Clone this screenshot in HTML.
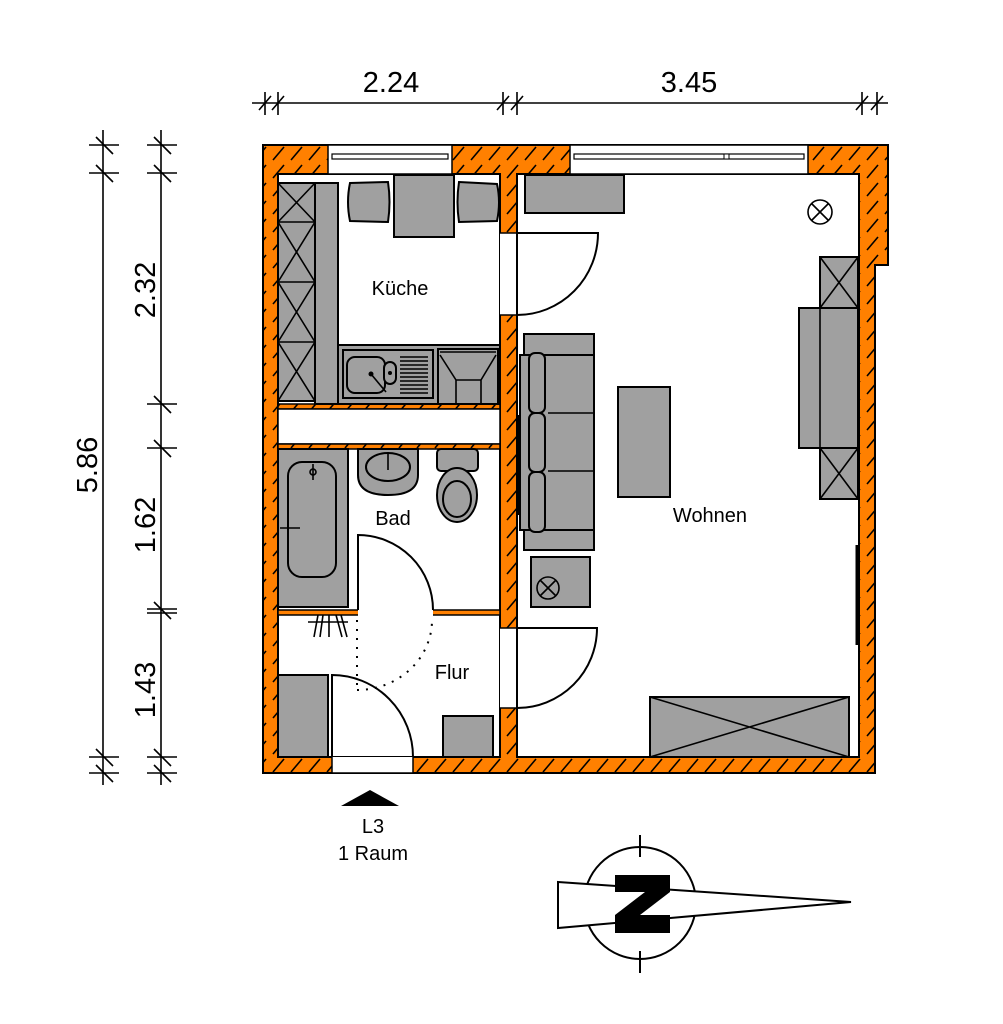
<!DOCTYPE html>
<html><head><meta charset="utf-8"><style>
html,body{margin:0;padding:0;background:#fff;}
svg{display:block;}
text{font-family:"Liberation Sans",Arial,sans-serif;fill:#000;}
</style></head><body>
<svg width="1003" height="1024" viewBox="0 0 1003 1024" xmlns="http://www.w3.org/2000/svg">
<defs>
<pattern id="h" width="18" height="18" patternUnits="userSpaceOnUse">
<rect width="18" height="18" fill="#FF8000"/>
<path d="M3,16 L14,3" stroke="#000" stroke-width="1.6"/>
</pattern>
</defs>
<path d="M263,145 H888 V265 H875 V773 H263 Z" fill="url(#h)" stroke="#000" stroke-width="2"/>
<rect x="278" y="174" width="222" height="583" fill="#fff" stroke="#000" stroke-width="2"/>
<path d="M517,174 H859 V757 H517 Z" fill="#fff" stroke="#000" stroke-width="2"/>
<rect x="278" y="404" width="222" height="5" fill="url(#h)" stroke="#000" stroke-width="1.5"/>
<rect x="278" y="409" width="222" height="35" fill="#fff" stroke="#000" stroke-width="1.5"/>
<rect x="278" y="444" width="222" height="5" fill="url(#h)" stroke="#000" stroke-width="1.5"/>
<rect x="278" y="610" width="222" height="5" fill="url(#h)" stroke="#000" stroke-width="1.5"/>
<rect x="328" y="145" width="124" height="29" fill="#fff" stroke="#000" stroke-width="1.5"/>
<rect x="332" y="154" width="116" height="5" fill="#fff" stroke="#000" stroke-width="1.2"/>
<rect x="570" y="145" width="238" height="29" fill="#fff" stroke="#000" stroke-width="1.5"/>
<rect x="574" y="154" width="230" height="5" fill="#fff" stroke="#000" stroke-width="1.2"/>
<rect x="724" y="154" width="5" height="5" fill="#fff" stroke="#000" stroke-width="1"/>
<rect x="500" y="233" width="17" height="82" fill="#fff"/>
<rect x="500" y="628" width="17" height="80" fill="#fff"/>
<rect x="332" y="757" width="81" height="16" fill="#fff"/>
<rect x="358" y="608" width="75" height="9" fill="#fff"/>
<line x1="500" y1="233" x2="517" y2="233" stroke="#000" stroke-width="1.5"/>
<line x1="500" y1="315" x2="517" y2="315" stroke="#000" stroke-width="1.5"/>
<line x1="500" y1="628" x2="517" y2="628" stroke="#000" stroke-width="1.5"/>
<line x1="500" y1="708" x2="517" y2="708" stroke="#000" stroke-width="1.5"/>
<line x1="332" y1="773" x2="413" y2="773" stroke="#000" stroke-width="1.5"/>
<line x1="332" y1="757" x2="332" y2="773" stroke="#000" stroke-width="1.5"/>
<line x1="413" y1="757" x2="413" y2="773" stroke="#000" stroke-width="1.5"/>
<g fill="none" stroke="#000" stroke-width="2">
<path d="M517,233 H598 A81,82 0 0 1 517,315"/>
<line x1="517" y1="233" x2="517" y2="315"/>
<path d="M517,628 H597 A80,80 0 0 1 517,708"/>
<line x1="517" y1="628" x2="517" y2="708"/>
<path d="M358,610 V535 A75,75 0 0 1 433,610"/>
<path d="M332,757 V675 A81,82 0 0 1 413,757"/>
<path d="M357,620 V690 M357,690 A75,70 0 0 0 432,620" stroke-dasharray="2,7"/>
</g>
<g fill="#A0A0A0" stroke="#000" stroke-width="2">
<rect x="278" y="183" width="37" height="218"/>
<rect x="315" y="183" width="23" height="221"/>
<rect x="338" y="345" width="162" height="59"/>
<rect x="343" y="350" width="90" height="48"/>
<rect x="438" y="349" width="60" height="55"/>
<rect x="394" y="175" width="60" height="62"/>
<path d="M350,183 L388,182 Q391,202 388,222 L350,221 Q346,202 350,183 Z"/>
<path d="M459,182 L497,184 Q501,202 497,221 L459,222 Q456,202 459,182 Z"/>
<rect x="347" y="357" width="38" height="36" rx="8"/>
<rect x="384" y="362" width="12" height="22" rx="6"/>
</g>
<g stroke="#000" stroke-width="1.6" fill="none">
<path d="M278,183 L315,222 M315,183 L278,222 M278,222 L315,282 M315,222 L278,282 M278,282 L315,342 M315,282 L278,342 M278,342 L315,401 M315,342 L278,401"/>
<line x1="278" y1="222" x2="315" y2="222"/><line x1="278" y1="282" x2="315" y2="282"/><line x1="278" y1="342" x2="315" y2="342"/>
<path d="M400,357 H428 M400,361 H428 M400,365 H428 M400,369 H428 M400,373 H428 M400,377 H428 M400,381 H428 M400,385 H428 M400,389 H428 M400,393 H428"/>
<path d="M371,374 L386,392"/>
<path d="M440,352 H496 M440,355 L456,380 H481 L496,355 M456,380 V404 M481,380 V404"/>
</g>
<circle cx="371" cy="374" r="2.5"/><circle cx="390" cy="373" r="2"/>
<g fill="#A0A0A0" stroke="#000" stroke-width="2">
<rect x="525" y="175" width="99" height="38"/>
<rect x="524" y="334" width="70" height="21"/>
<rect x="524" y="530" width="70" height="20"/>
<rect x="520" y="355" width="74" height="175"/>
<rect x="529" y="353" width="16" height="60" rx="6"/>
<rect x="529" y="413" width="16" height="59" rx="6"/>
<rect x="529" y="472" width="16" height="60" rx="6"/>
<rect x="618" y="387" width="52" height="110"/>
<rect x="531" y="557" width="59" height="50"/>
<rect x="820" y="257" width="38" height="51"/>
<rect x="799" y="308" width="59" height="140"/>
<rect x="820" y="448" width="38" height="51"/>
<rect x="650" y="697" width="199" height="60"/>
</g>
<g stroke="#000" stroke-width="1.6" fill="none">
<line x1="548" y1="413" x2="594" y2="413"/><line x1="548" y1="471" x2="594" y2="471"/>
<line x1="820" y1="308" x2="820" y2="448"/>
<path d="M820,257 L858,308 M858,257 L820,308 M820,448 L858,499 M858,448 L820,499"/>
<path d="M650,697 L849,757 M849,697 L650,757"/>
<circle cx="548" cy="588" r="11"/><path d="M540,580 L556,596 M556,580 L540,596"/>
<circle cx="820" cy="212" r="12"/><path d="M811.5,203.5 L828.5,220.5 M828.5,203.5 L811.5,220.5"/>
</g>
<line x1="857" y1="545" x2="857" y2="645" stroke="#000" stroke-width="3"/>
<line x1="518" y1="415" x2="518" y2="515" stroke="#000" stroke-width="3"/>
<g fill="#A0A0A0" stroke="#000" stroke-width="2">
<rect x="278" y="449" width="70" height="158"/>
<rect x="288" y="462" width="48" height="115" rx="14"/>
<path d="M358,449 H418 V475 Q418,495 388,495 Q358,495 358,475 Z"/>
<ellipse cx="388" cy="467" rx="22" ry="14"/>
<rect x="437" y="449" width="41" height="22" rx="4"/>
<ellipse cx="457" cy="495" rx="20" ry="27"/>
<ellipse cx="457" cy="499" rx="14" ry="18"/>
<rect x="278" y="675" width="50" height="82"/>
<rect x="443" y="716" width="50" height="41"/>
</g>
<g stroke="#000" stroke-width="1.6" fill="none">
<line x1="280" y1="528" x2="300" y2="528"/>
<circle cx="313" cy="472" r="3"/><line x1="313" y1="464" x2="313" y2="480"/>
<line x1="388" y1="452" x2="388" y2="470"/>
<path d="M308,622 H348 M318,615 L314,637 M323,615 L320,637 M329,615 L329,637 M336,615 L342,637 M341,615 L347,637"/>
</g>
<text x="400" y="295" font-size="20" text-anchor="middle">Küche</text>
<text x="393" y="525" font-size="20" text-anchor="middle">Bad</text>
<text x="452" y="679" font-size="20" text-anchor="middle">Flur</text>
<text x="710" y="522" font-size="20" text-anchor="middle">Wohnen</text>
<g stroke="#000" stroke-width="1.6" fill="none">
<line x1="252" y1="103" x2="888" y2="103"/>
<path d="M265,92 V115 M278,92 V115 M503,92 V115 M517,92 V115 M862,92 V115 M877,92 V115"/>
<path d="M259,110 L271,96 M272,110 L284,96 M497,110 L509,96 M511,110 L523,96 M856,110 L868,96 M871,110 L883,96"/>
<line x1="103" y1="130" x2="103" y2="785"/>
<line x1="161" y1="130" x2="161" y2="785"/>
<path d="M89,145 H119 M89,173 H119 M89,757 H119 M89,773 H119 M147,145 H177 M147,173 H177 M147,404 H177 M147,448 H177 M147,609 H177 M147,613 H177 M147,757 H177 M147,773 H177"/>
<path d="M96,137 L113,154 M96,165 L113,182 M96,749 L113,766 M96,765 L113,782 M154,137 L171,154 M154,165 L171,182 M154,396 L171,413 M154,440 L171,457 M154,602 L171,619 M154,749 L171,766 M154,765 L171,782"/>
</g>
<text x="391" y="92" font-size="29" text-anchor="middle">2.24</text>
<text x="689" y="92" font-size="29" text-anchor="middle">3.45</text>
<text transform="translate(97,465) rotate(-90)" font-size="29" text-anchor="middle">5.86</text>
<text transform="translate(155,290) rotate(-90)" font-size="29" text-anchor="middle">2.32</text>
<text transform="translate(155,525) rotate(-90)" font-size="29" text-anchor="middle">1.62</text>
<text transform="translate(155,690) rotate(-90)" font-size="29" text-anchor="middle">1.43</text>
<polygon points="341,806 370,790 399,806" fill="#000"/>
<text x="373" y="833" font-size="20" text-anchor="middle">L3</text>
<text x="373" y="860" font-size="20" text-anchor="middle">1 Raum</text>
<g stroke="#000" stroke-width="2" fill="none">
<circle cx="640" cy="903" r="56"/>
<line x1="640" y1="835" x2="640" y2="857"/>
<line x1="640" y1="951" x2="640" y2="973"/>
<polygon points="558,882 851,902 558,928" fill="#fff"/>
</g>
<polygon points="615,875 670,875 670,892 640,915 670,915 670,933 615,933 615,915 645,892 615,892" fill="#000"/>
</svg>
</body></html>
